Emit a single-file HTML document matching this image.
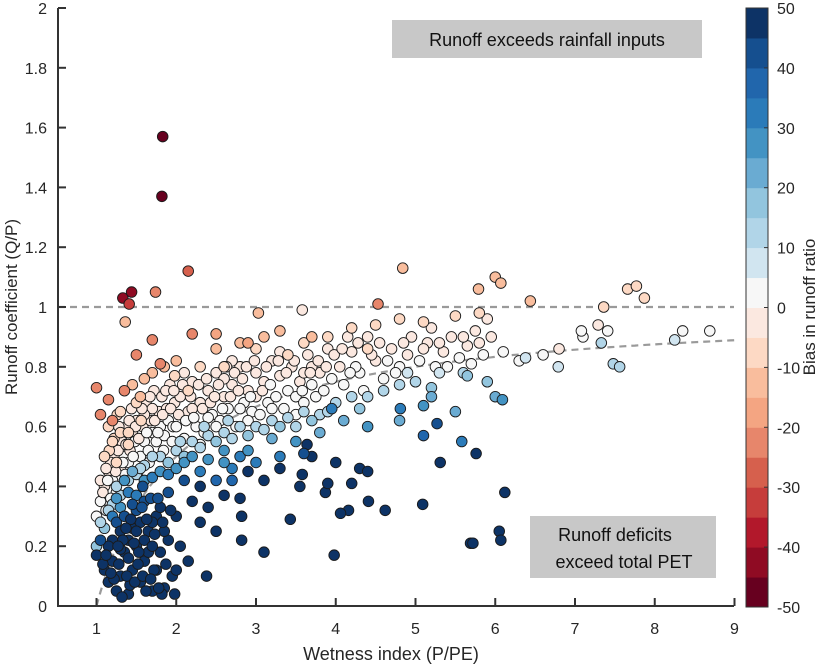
<!DOCTYPE html>
<html><head><meta charset="utf-8"><style>
body{margin:0;background:#fff;}
svg{display:block;font-family:"Liberation Sans",Arial,sans-serif;}
</style></head><body>
<svg id="chart" width="822" height="665">
<g id="plot"></g>
<g id="axes"></g>
<g id="cbar"></g>
</svg>
<script>
const xTicks=[1,2,3,4,5,6,7,8,9];
const yTicks=[0,0.2,0.4,0.6,0.8,1,1.2,1.4,1.6,1.8,2];
const yTickLabels=["0","0.2","0.4","0.6","0.8","1","1.2","1.4","1.6","1.8","2"];
const cbTicks=[-50,-40,-30,-20,-10,0,10,20,30,40,50];
const cbColors=["#67001f","#8f0b23","#b2182b","#c63d3b","#d6604d","#e7866b","#f4a582","#f9bd9d","#fdd9c4","#fbe8e0","#f7f7f7","#d1e5f0","#b1d5e8","#92c5de","#6aabd2","#4393c3","#2b7bb9","#2166ac","#154f8f","#0d3366"];
const whitePts=[[1.0,0.3,2],[1.05,0.35,3],[1.1,0.4,-2],[1.12,0.32,4],[1.15,0.45,-3],[1.2,0.42,1],[1.22,0.5,-4],[1.25,0.38,3],[1.3,0.46,-2],[1.32,0.55,-3],[1.35,0.5,2],[1.38,0.6,-4],[1.4,0.48,3],[1.42,0.52,-1],[1.45,0.58,-3],[1.48,0.55,2],[1.5,0.62,-4],[1.05,0.42,-3],[1.18,0.48,-2],[1.28,0.6,-4],[1.44,0.66,-3],[1.36,0.44,3],
[1.55,0.5,3],[1.58,0.6,-2],[1.6,0.55,2],[1.62,0.68,-4],[1.65,0.52,3],[1.68,0.62,-2],[1.7,0.58,1],[1.72,0.72,-4],[1.75,0.55,3],[1.78,0.65,-2],[1.8,0.6,2],[1.82,0.7,-3],[1.85,0.57,3],[1.88,0.66,-1],[1.9,0.62,2],[1.92,0.74,-4],[1.95,0.55,4],[1.98,0.68,-2],[1.52,0.45,4],[1.66,0.48,4],[1.84,0.52,4],[1.96,0.6,3],[1.7,0.66,-3],[1.6,0.64,-2],
[2.0,0.6,2],[2.05,0.7,-3],[2.1,0.56,3],[2.15,0.65,-1],[2.2,0.75,-4],[2.25,0.6,3],[2.3,0.68,-2],[2.35,0.58,4],[2.4,0.72,-3],[2.45,0.64,2],[2.5,0.78,-4],[2.55,0.62,3],[2.6,0.7,-2],[2.65,0.66,2],[2.7,0.74,-3],[2.75,0.6,4],[2.8,0.8,-4],[2.85,0.68,2],[2.9,0.72,-2],[2.95,0.65,3],[2.1,0.78,-4],[2.3,0.54,4],[2.5,0.6,4],[2.7,0.82,-4],[2.9,0.62,4],[2.2,0.66,-1],[2.4,0.63,2],[2.6,0.76,-3],[2.8,0.66,3],[3.0,0.7,-1],
[3.05,0.64,4],[3.1,0.75,-2],[3.15,0.68,3],[3.2,0.82,-4],[3.25,0.7,2],[3.3,0.77,-2],[3.35,0.66,4],[3.4,0.72,2],[3.45,0.8,-3],[3.5,0.7,3],[3.55,0.75,-1],[3.6,0.68,4],[3.65,0.84,-4],[3.7,0.74,2],[3.75,0.7,4],[3.8,0.78,-2],[3.85,0.72,3],[3.9,0.86,-4],[3.95,0.76,2],[3.2,0.66,4],[3.5,0.64,4],[3.7,0.8,-3],[3.0,0.78,-3],[3.3,0.85,-4],[3.6,0.78,-2],
[4.05,0.8,-2],[4.1,0.74,3],[4.2,0.85,-3],[4.3,0.78,2],[4.4,0.9,-4],[4.5,0.82,-1],[4.6,0.76,3],[4.7,0.86,-3],[4.8,0.8,2],[4.9,0.84,-2],[4.15,0.9,-4],[4.35,0.72,4],[4.55,0.88,-3],[4.75,0.78,3],[4.95,0.9,-4],[4.25,0.8,1],
[5.05,0.82,2],[5.15,0.88,-3],[5.25,0.8,3],[5.35,0.85,-1],[5.45,0.9,-3],[5.55,0.83,2],[5.65,0.87,-2],[5.75,0.92,-4],[5.85,0.84,2],[5.95,0.9,-3],[5.4,0.8,3],[5.7,0.81,3],[5.9,0.96,-4],[5.2,0.93,-4],
[6.1,0.85,2],[6.3,0.82,3],[6.6,0.84,1],[6.8,0.86,-2],[7.1,0.9,2],[7.08,0.92,0],[7.29,0.94,-5],[7.41,0.92,0],[8.35,0.92,0],[8.69,0.92,0],[8.25,0.89,5],[6.38,0.83,5]];
const extraWhitePts=[[1.08,0.38,-3],[1.14,0.42,2],[1.18,0.36,3],[1.24,0.45,-2],[1.27,0.52,-3],[1.33,0.48,1],[1.37,0.54,-2],[1.41,0.62,-4],[1.46,0.5,2],[1.49,0.6,-3],[1.53,0.56,-1],[1.57,0.66,-4],[1.63,0.58,2],[1.67,0.7,-4],[1.73,0.62,-2],[1.77,0.58,3],[1.83,0.64,-1],[1.87,0.72,-4],[1.93,0.66,-2],[1.97,0.72,-3],[2.03,0.64,-1],[2.08,0.74,-4],[2.12,0.62,1],[2.18,0.7,-3],[2.22,0.63,2],[2.28,0.74,-4],[2.33,0.66,-1],[2.38,0.76,-4],[2.43,0.68,-2],[2.48,0.7,-1],[2.53,0.74,-3],[2.58,0.66,2],[2.63,0.8,-4],[2.68,0.7,-1],[2.73,0.78,-3],[2.78,0.72,-1],[2.83,0.76,-3],[2.88,0.8,-4],[2.93,0.7,1],[2.98,0.82,-4],[3.08,0.72,-1],[3.13,0.8,-3],[3.18,0.74,2],[3.28,0.82,-3],[3.38,0.78,-2],[3.48,0.82,-3],[3.58,0.72,1],[3.68,0.78,-2],[3.78,0.82,-3],[3.88,0.8,-2],[3.98,0.84,-3],[4.08,0.86,-3],[4.18,0.78,1],[4.28,0.88,-4],[4.45,0.84,-2],[4.65,0.82,1],[4.85,0.88,-3],[5.1,0.86,-2],[5.3,0.88,-2],[5.6,0.9,-3],[5.8,0.88,-1],[1.12,0.46,-5],[1.22,0.56,-6],[1.3,0.58,-6],[1.16,0.52,-7],[1.4,0.54,-6],[1.26,0.64,-8],[1.5,0.68,-7],[1.56,0.62,-6]];
const peachPts=[[1.3,0.65,-10],[1.45,0.74,-12],[1.2,0.55,-8],[1.15,0.6,-10],[1.55,0.7,-12],[1.7,0.78,-14],[1.85,0.8,-15],[2.0,0.82,-12],[2.3,0.8,-10],[2.5,0.86,-14],[2.8,0.88,-12],[3.1,0.9,-15],[3.3,0.92,-12],[3.6,0.88,-10],[3.9,0.9,-8],[4.2,0.93,-10],[4.5,0.94,-8],[4.8,0.96,-8],[5.1,0.95,-8],[5.5,0.97,-10],[5.8,0.98,-8],[1.25,0.48,-8],[1.1,0.5,-8],[1.4,0.58,-8],[2.15,0.72,-8],[2.6,0.8,-8],[3.4,0.84,-8],[3.0,0.86,-10],[3.7,0.9,-12],[4.4,0.86,-8],[1.98,0.77,-10],[1.6,0.76,-15],[1.36,0.95,-12],[3.58,0.99,-5],[3.03,0.98,-15],[4.84,1.13,-15],[6.0,1.10,-15],[6.07,1.08,-14],[5.79,1.06,-12],[6.44,1.02,-12],[7.66,1.06,-10],[7.77,1.07,-10],[7.87,1.03,-8],[7.36,1.0,-6]];
const redPts=[[1.0,0.73,-25],[1.2,0.62,-22],[1.05,0.64,-25],[1.35,0.72,-22],[1.5,0.84,-22],[1.8,0.81,-22],[2.2,0.91,-24],[2.9,0.88,-18],[1.15,0.69,-24],[2.5,0.91,-18],[1.74,1.05,-25],[1.70,0.89,-25],[4.53,1.01,-25],[2.15,1.12,-30],[1.33,1.03,-45],[1.44,1.05,-45],[1.41,1.01,-35],[1.82,1.37,-48],[1.83,1.57,-50]];
const lightBluePts=[[1.0,0.2,15],[1.1,0.26,15],[1.2,0.34,12],[1.3,0.37,12],[1.4,0.42,10],[1.5,0.44,12],[1.6,0.47,10],[1.8,0.5,12],[2.0,0.52,10],[2.2,0.55,12],[2.4,0.57,10],[2.6,0.58,12],[2.8,0.6,10],[3.0,0.6,12],[3.2,0.62,10],[3.4,0.63,12],[3.6,0.65,10],[3.8,0.64,12],[4.0,0.68,10],[4.2,0.7,10],[4.4,0.7,12],[4.6,0.72,10],[4.8,0.74,12],[5.0,0.75,10],[5.3,0.78,8],[5.6,0.78,10],[1.9,0.48,15],[2.1,0.5,15],[2.3,0.53,14],[2.5,0.55,15],[2.7,0.56,14],[2.9,0.57,15],[3.1,0.59,14],[3.3,0.6,15],[3.5,0.6,14],[3.7,0.62,15],[3.9,0.65,14],[4.3,0.66,15],[4.9,0.78,8],[5.2,0.73,15],[6.79,0.80,8],[7.33,0.88,10],[7.48,0.81,10],[7.56,0.80,10],[1.05,0.28,12],[1.15,0.32,14],[1.25,0.4,10],[1.55,0.46,14],[1.7,0.5,12],[2.05,0.55,12],[2.35,0.6,10],[2.65,0.62,10]];
const midBluePts=[[1.2,0.3,30],[1.3,0.33,28],[1.4,0.38,30],[1.5,0.37,32],[1.6,0.42,28],[1.7,0.43,30],[1.8,0.45,26],[1.9,0.44,30],[2.0,0.46,28],[2.1,0.48,26],[2.2,0.5,25],[2.4,0.49,28],[2.6,0.52,25],[2.8,0.5,30],[1.35,0.42,25],[1.25,0.36,28],[1.45,0.45,22],[2.3,0.45,30],[2.5,0.42,35],[2.7,0.46,32],
[2.6,0.48,28],[2.9,0.52,25],[3.2,0.56,22],[3.5,0.55,25],[3.8,0.58,22],[4.1,0.62,20],[4.4,0.6,25],[4.8,0.62,22],[5.2,0.7,20],[5.5,0.65,22],[6.0,0.7,20],[6.09,0.69,25],[5.9,0.75,18],[5.1,0.67,25],[4.81,0.66,30],[3.95,0.66,30],[5.27,0.61,40],[5.1,0.57,35],[5.58,0.55,30],[3.3,0.5,30],[3.0,0.48,32],[2.7,0.42,35],[5.65,0.77,15]];
const navyPts=[[1.1,0.12,50],[1.15,0.08,50],[1.2,0.15,50],[1.25,0.05,50],[1.3,0.1,50],[1.35,0.18,48],[1.4,0.04,50],[1.45,0.12,50],[1.5,0.2,48],[1.55,0.08,50],[1.6,0.15,50],[1.65,0.25,46],[1.7,0.05,50],[1.75,0.3,45],[1.8,0.18,50],[1.85,0.06,50],[1.9,0.22,48],[1.95,0.1,50],[1.2,0.22,46],[1.25,0.28,42],[1.3,0.25,46],[1.35,0.3,42],[1.4,0.22,48],[1.45,0.26,46],[1.5,0.32,42],[1.55,0.28,46],[1.6,0.35,42],[1.65,0.18,50],[1.7,0.28,46],[1.75,0.12,50],[1.8,0.33,45],[1.85,0.25,48],[1.9,0.38,42],[2.0,0.3,48],[2.05,0.2,50],[2.1,0.42,42],[2.2,0.35,46],[2.3,0.28,50],[1.15,0.2,46],[1.22,0.09,50],[1.32,0.03,50],[1.42,0.07,50],[1.52,0.14,50],[1.62,0.05,50],[1.72,0.12,50],[1.82,0.04,50],[1.78,0.06,50],[1.6,0.22,50],[1.4,0.16,50],[1.3,0.19,50],[1.5,0.25,48],[1.7,0.2,50],[1.58,0.4,40],[1.68,0.36,44],[1.45,0.34,42],[2.0,0.12,50],[2.15,0.15,50],[1.98,0.04,50],[1.0,0.17,46],[1.05,0.22,44],[1.08,0.14,50],
[1.12,0.17,50],[1.18,0.11,50],[1.28,0.14,50],[1.38,0.1,50],[1.48,0.08,50],[1.58,0.1,50],[1.68,0.09,50],[1.33,0.22,48],[1.43,0.29,46],[1.53,0.18,50],[1.63,0.29,46],[1.73,0.24,48],[1.83,0.28,46],[1.93,0.32,46],[1.27,0.2,50],[1.37,0.26,46],[1.47,0.21,50],[1.57,0.33,44],[1.77,0.36,44],[1.87,0.14,50],
[5.76,0.51,50],[5.31,0.48,45],[6.12,0.38,50],[6.05,0.25,50],[5.69,0.21,50],[5.72,0.21,50],[6.07,0.22,50],[5.09,0.34,50],[4.62,0.32,50],[4.41,0.35,50],[4.16,0.32,50],[4.06,0.31,50],[3.98,0.17,50],[3.43,0.29,50],[3.10,0.18,50],[2.82,0.22,50],[2.38,0.10,50],[3.87,0.38,50],[3.9,0.41,50],[4.2,0.41,50],[4.3,0.46,48],[3.58,0.44,50],[3.55,0.4,50],[3.64,0.54,45],[3.7,0.5,50],[2.82,0.3,50],[2.8,0.36,48],[2.6,0.37,50],[2.4,0.33,50],[2.5,0.25,50],[2.3,0.4,45],[3.1,0.42,50],[3.3,0.46,45],[4.0,0.48,50],[2.9,0.45,45],[3.6,0.51,42],[4.4,0.45,45]];

const X0=96.5,XU=79.75,Y0=606,YU=299;
function sx(v){return X0+(v-1)*XU;}
function sy(v){return Y0-v*YU;}
function colorOf(b){let i=Math.floor((b+50)/5);if(i<0)i=0;if(i>19)i=19;return cbColors[i];}
const NS="http://www.w3.org/2000/svg";
function mk(tag,attrs,parent){const e=document.createElementNS(NS,tag);for(const k in attrs)e.setAttribute(k,attrs[k]);parent.appendChild(e);return e;}
const plot=document.getElementById('plot'),axes=document.getElementById('axes'),cbar=document.getElementById('cbar');

let l1=mk('line',{x1:58,x2:734,y1:sy(1),y2:sy(1),stroke:'#9a9a9a','stroke-width':2.2,'stroke-dasharray':'7,5'},plot);


let d='';for(let w=1;w<=9.001;w+=0.05){d+=(d?'L':'M')+sx(w).toFixed(1)+','+sy(1-1/w).toFixed(1);}
let bud=mk('path',{d:d,fill:'none',stroke:'#9a9a9a','stroke-width':2.2,'stroke-dasharray':'7,5'},plot);



function drawGroup(pts,name){
  pts.forEach(p=>{
    const c=mk('circle',{cx:sx(p[0]),cy:sy(p[1]),r:5.3,fill:colorOf(p[2]),stroke:'#1a1a1a','stroke-width':0.9},plot);
    
    
  });
}
drawGroup(whitePts,'catchment-point');
drawGroup(extraWhitePts,'catchment-point');
drawGroup(peachPts,'catchment-point');
drawGroup(redPts,'catchment-point');
drawGroup(lightBluePts,'catchment-point');
drawGroup(midBluePts,'catchment-point');
drawGroup(navyPts,'catchment-point');

let b1=mk('rect',{x:392,y:20,width:310,height:38,fill:'#c8c8c8'},plot);


let t1=mk('text',{x:547,y:46,'text-anchor':'middle','font-size':18,fill:'#111'},plot);t1.textContent='Runoff exceeds rainfall inputs';


let b2=mk('rect',{x:530,y:516,width:186,height:62,fill:'#c8c8c8'},plot);


let t2=mk('text',{x:615,y:541,'text-anchor':'middle','font-size':18,fill:'#111'},plot);t2.textContent='Runoff deficits';


let t3=mk('text',{x:624,y:568,'text-anchor':'middle','font-size':18,fill:'#111'},plot);t3.textContent='exceed total PET';



let ax=mk('path',{d:'M58,8 L58,606 L734,606',fill:'none',stroke:'#333','stroke-width':2},axes);


xTicks.forEach(v=>{
  const tk=mk('line',{x1:sx(v),x2:sx(v),y1:606,y2:598,stroke:'#333','stroke-width':2},axes);
  
  
  const t=mk('text',{x:sx(v),y:634,'text-anchor':'middle','font-size':16,fill:'#262626'},axes);t.textContent=v;
  
  
});
yTicks.forEach((v,i)=>{
  const tk=mk('line',{x1:58,x2:66,y1:sy(v),y2:sy(v),stroke:'#333','stroke-width':2},axes);
  
  
  const t=mk('text',{x:47,y:sy(v)+6,'text-anchor':'end','font-size':16,fill:'#262626'},axes);t.textContent=yTickLabels[i];
  
  
});
let xl=mk('text',{x:391,y:660,'text-anchor':'middle','font-size':18,fill:'#262626'},axes);xl.textContent='Wetness index (P/PE)';


let yl=mk('text',{x:0,y:0,'text-anchor':'middle','font-size':17,fill:'#262626',transform:'translate(17,307) rotate(-90)'},axes);yl.textContent='Runoff coefficient (Q/P)';



const CB_X=746,CB_W=22,CB_T=8,CB_B=607;
const segH=(CB_B-CB_T)/cbColors.length;
cbColors.forEach((c,i)=>{
  const r=mk('rect',{x:CB_X,y:CB_B-(i+1)*segH,width:CB_W,height:segH+0.5,fill:c},cbar);
  
  
});
let cbo=mk('rect',{x:CB_X,y:CB_T,width:CB_W,height:CB_B-CB_T,fill:'none',stroke:'#333','stroke-width':1},cbar);


cbTicks.forEach(v=>{
  const y=CB_B-(v+50)/100*(CB_B-CB_T);
  const tk=mk('line',{x1:CB_X+CB_W-4,x2:CB_X+CB_W,y1:y,y2:y,stroke:'#333','stroke-width':1},cbar);
  
  
  const t=mk('text',{x:CB_X+CB_W+9,y:y+6,'font-size':16,fill:'#262626'},cbar);t.textContent=(v<0?'-'+Math.abs(v):v);
  
  
});
let cbl=mk('text',{x:0,y:0,'text-anchor':'middle','font-size':17,fill:'#262626',transform:'translate(815,307) rotate(-90)'},cbar);cbl.textContent='Bias in runoff ratio';


</script>
</body></html>
